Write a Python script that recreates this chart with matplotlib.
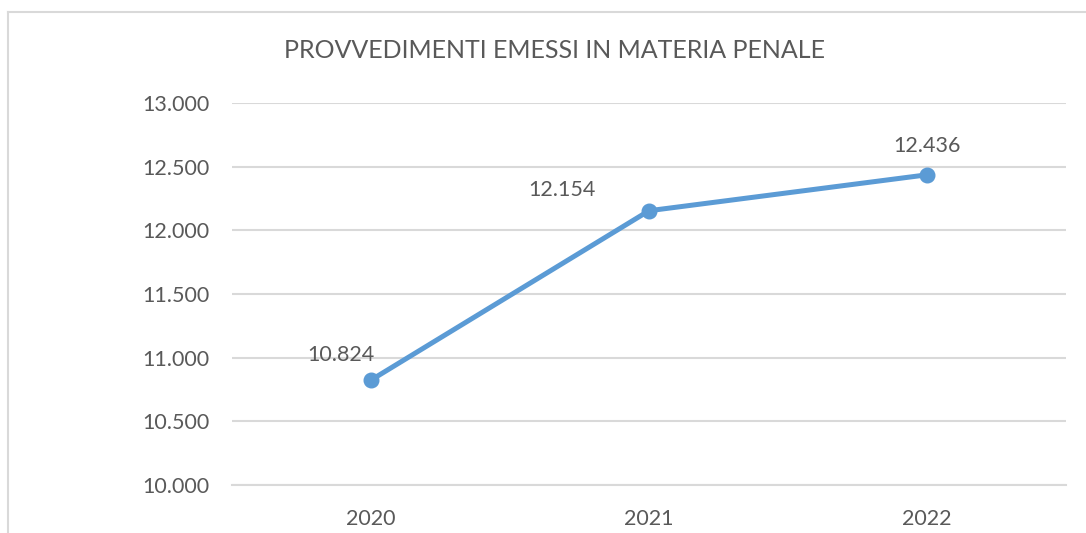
import matplotlib
matplotlib.use("Agg")
import matplotlib.pyplot as plt
from matplotlib.lines import Line2D

years = ["2020", "2021", "2022"]
provvedimenti = [10824, 12154, 12436]
y_ticks = [10000, 10500, 11000, 11500, 12000, 12500, 13000]
# label offsets in pixels relative to each point (Excel-style placement)
label_offsets = [(-30, 25), (-87, 21), (0, 29)]

TEXT = "#595959"
GRID = "#D9D9D9"
BLUE = "#5B9BD5"

plt.rcParams["font.family"] = ["Lato", "DejaVu Sans"]


def fmt_it(v):
    # Italian thousands separator
    return f"{v:,.0f}".replace(",", ".")


fig = plt.figure(figsize=(10.86, 5.33), dpi=100)
W, H = 1086, 533

# chart frame (top and left edges only, the rest is cropped)
fig.add_artist(Line2D([8 / W, 1], [1 - 12 / H, 1 - 12 / H], color=GRID, lw=1.5,
                      transform=fig.transFigure))
fig.add_artist(Line2D([8 / W, 8 / W], [0, 1 - 12 / H], color=GRID, lw=1.5,
                      transform=fig.transFigure))

ax = fig.add_axes([232 / W, 48 / H, 834 / W, 382 / H])
x = list(range(len(years)))
ax.plot(x, provvedimenti, color=BLUE, lw=3.6, marker="o", markersize=10.5,
        solid_capstyle="round", zorder=3)

for xi, v, (dx, dy) in zip(x, provvedimenti, label_offsets):
    ax.annotate(fmt_it(v), (xi, v), xytext=(dx * 0.72, dy * 0.72),
                textcoords="offset points", ha="center", va="center",
                fontsize=15.5, color=TEXT)

ax.set_xlim(-0.5, len(years) - 0.5)
ax.set_ylim(y_ticks[0], y_ticks[-1])
ax.set_xticks(x)
ax.set_xticklabels(years)
ax.set_yticks(y_ticks)
ax.set_yticklabels([fmt_it(t) for t in y_ticks])
ax.tick_params(length=0, labelsize=15.5, colors=TEXT)
ax.tick_params(axis="y", pad=16)
ax.tick_params(axis="x", pad=17)
ax.grid(axis="y", color=GRID, lw=1.5)
ax.set_axisbelow(True)
for s in ax.spines.values():
    s.set_visible(False)
ax.spines["bottom"].set_visible(True)
ax.spines["bottom"].set_color(GRID)
ax.spines["bottom"].set_linewidth(1.5)

fig.text(554 / W, 1 - 51 / H, "PROVVEDIMENTI EMESSI IN MATERIA PENALE",
         ha="center", va="center", fontsize=18, color=TEXT)

fig.savefig("out.png", dpi=100)
